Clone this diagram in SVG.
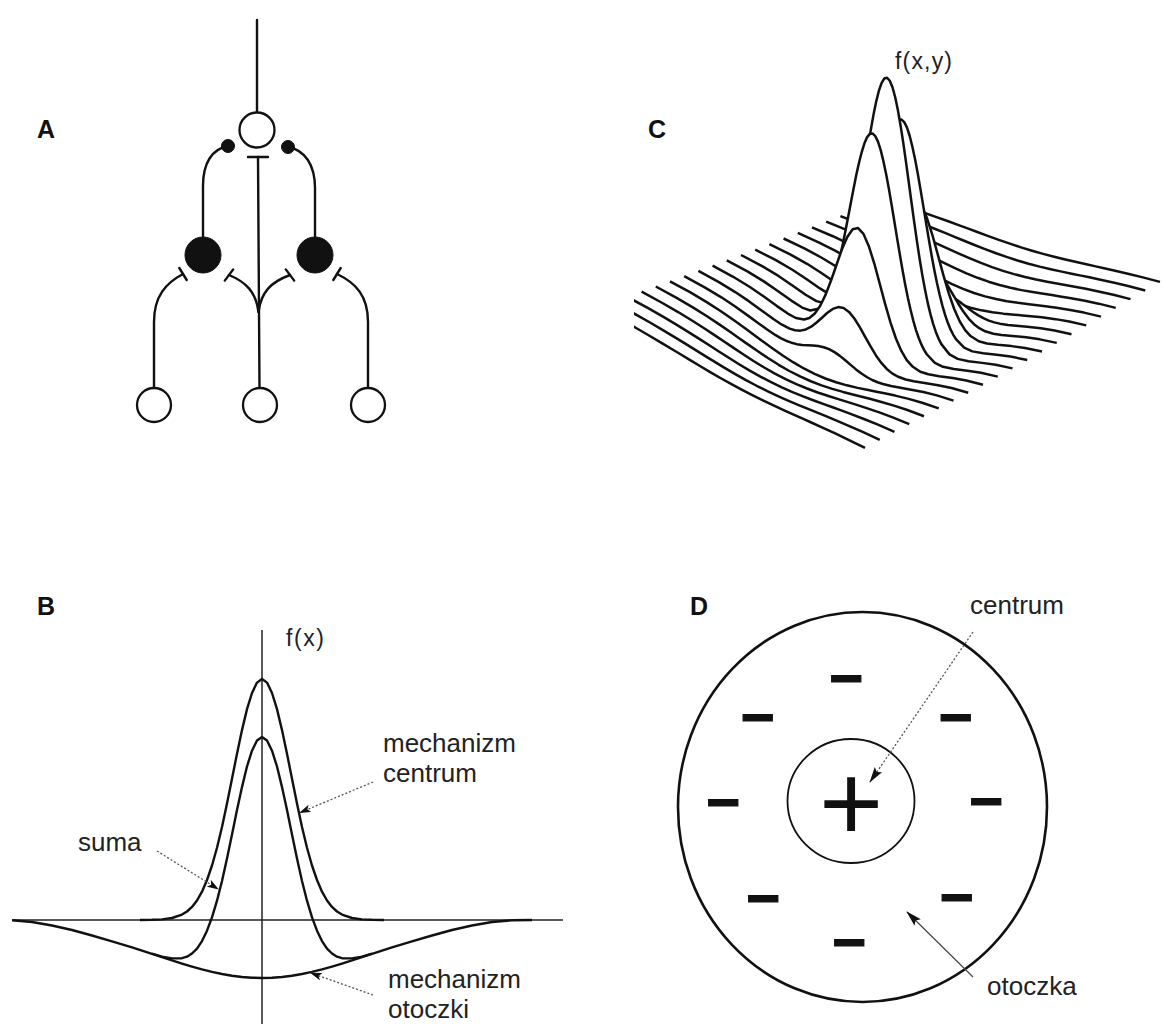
<svg xmlns="http://www.w3.org/2000/svg" width="1162" height="1024" viewBox="0 0 1162 1024">
<style>
.ln{fill:none;stroke:#111;stroke-width:2.4;stroke-linecap:round;stroke-linejoin:round}
.fillb{fill:#111;stroke:#111;stroke-width:1}
.openc{fill:#fff;stroke:#111;stroke-width:2.3}
.ax{fill:none;stroke:#222;stroke-width:1.5}
.cv{fill:none;stroke:#111;stroke-width:2.4;stroke-linejoin:round}
.dot{fill:none;stroke:#555;stroke-width:1.3;stroke-dasharray:2 2}
.thin{fill:none;stroke:#444;stroke-width:1.2}
.lbl{font-family:"Liberation Sans",Arial,sans-serif;font-weight:bold;font-size:25px;fill:#111}
.txt{font-family:"Liberation Sans",Arial,sans-serif;font-size:26px;fill:#222}
.fx{font-family:"Liberation Sans",Arial,sans-serif;font-size:23px;fill:#222}
.mi{font-family:"Liberation Sans",Arial,sans-serif;font-weight:bold;font-size:58px;fill:#111;stroke:#111;stroke-width:1.3;text-anchor:middle}
.pl{font-family:"Liberation Sans",Arial,sans-serif;font-size:110px;fill:#111;text-anchor:middle}
.wl{fill:none;stroke:#111;stroke-width:2.5;stroke-linejoin:round;vector-effect:non-scaling-stroke}
.wf{fill:#fff;stroke:none}
</style>
<defs>
<marker id="ah" viewBox="0 0 12 8" refX="11" refY="4" markerWidth="12" markerHeight="8" markerUnits="userSpaceOnUse" orient="auto"><path d="M0,0 L12,4 L0,8 L3,4 Z" fill="#111"/></marker>
<marker id="ahD" viewBox="0 0 16 9" refX="15" refY="4.5" markerWidth="16" markerHeight="9" markerUnits="userSpaceOnUse" orient="auto"><path d="M0,0 L16,4.5 L0,9 L3,4.5 Z" fill="#111"/></marker>
<clipPath id="clipC"><rect x="634" y="0" width="528" height="520"/></clipPath>
<path id="p0" class="wl" vector-effect="non-scaling-stroke" d="M0,2 L76,4.4 L138,7.6 L188,11.3 L238,15.3 L278,17.3 L308,16.1 L338,9.2 L348,4.9 L358,-0.5 L368,-7.5 L378,-16.1 L388,-26.2 L398,-38.3 L408,-51.8 L418,-67 L428,-83.8 L438,-101.7 L448,-120.2 L458,-139.1 L468,-157.8 L478,-176 L488,-192.3 L498,-206.8 L508,-218.8 L518,-227.7 L528,-233.1 L538,-235 L548,-233.1 L558,-227.7 L568,-218.8 L578,-206.8 L588,-192.3 L598,-176 L608,-157.8 L618,-139.1 L628,-120.2 L638,-101.7 L648,-83.8 L658,-67 L668,-51.8 L678,-38.3 L688,-26.2 L698,-16.1 L708,-7.5 L718,-0.5 L728,4.9 L738,9.2 L768,16.1 L798,17.3 L838,15.3 L888,11.3 L938,7.6 L1000,4.4"/>
<path id="q0" class="wf" d="M0,2 L76,4.4 L138,7.6 L188,11.3 L238,15.3 L278,17.3 L308,16.1 L338,9.2 L348,4.9 L358,-0.5 L368,-7.5 L378,-16.1 L388,-26.2 L398,-38.3 L408,-51.8 L418,-67 L428,-83.8 L438,-101.7 L448,-120.2 L458,-139.1 L468,-157.8 L478,-176 L488,-192.3 L498,-206.8 L508,-218.8 L518,-227.7 L528,-233.1 L538,-235 L548,-233.1 L558,-227.7 L568,-218.8 L578,-206.8 L588,-192.3 L598,-176 L608,-157.8 L618,-139.1 L628,-120.2 L638,-101.7 L648,-83.8 L658,-67 L668,-51.8 L678,-38.3 L688,-26.2 L698,-16.1 L708,-7.5 L718,-0.5 L728,4.9 L738,9.2 L768,16.1 L798,17.3 L838,15.3 L888,11.3 L938,7.6 L1000,4.4 L1000,150 L0,150 Z"/>
<path id="p1" class="wl" vector-effect="non-scaling-stroke" d="M0,2 L76,4.3 L138,7.5 L188,11.1 L238,15.1 L278,17.5 L308,17 L338,11.8 L348,8.5 L358,4.2 L368,-1.3 L378,-8.1 L388,-16.4 L398,-26.1 L408,-37 L418,-49.3 L428,-62.9 L438,-77.5 L448,-92.6 L458,-108 L468,-123.2 L478,-138.1 L488,-151.3 L498,-163.1 L508,-173 L518,-180.3 L528,-184.7 L538,-186.2 L548,-184.7 L558,-180.3 L568,-173 L578,-163.1 L588,-151.3 L598,-138.1 L608,-123.2 L618,-108 L628,-92.6 L638,-77.5 L648,-62.9 L658,-49.3 L668,-37 L678,-26.1 L688,-16.4 L698,-8.1 L708,-1.3 L718,4.2 L728,8.5 L738,11.8 L768,17 L798,17.5 L838,15.1 L888,11.1 L938,7.5 L1000,4.3"/>
<path id="q1" class="wf" d="M0,2 L76,4.3 L138,7.5 L188,11.1 L238,15.1 L278,17.5 L308,17 L338,11.8 L348,8.5 L358,4.2 L368,-1.3 L378,-8.1 L388,-16.4 L398,-26.1 L408,-37 L418,-49.3 L428,-62.9 L438,-77.5 L448,-92.6 L458,-108 L468,-123.2 L478,-138.1 L488,-151.3 L498,-163.1 L508,-173 L518,-180.3 L528,-184.7 L538,-186.2 L548,-184.7 L558,-180.3 L568,-173 L578,-163.1 L588,-151.3 L598,-138.1 L608,-123.2 L618,-108 L628,-92.6 L638,-77.5 L648,-62.9 L658,-49.3 L668,-37 L678,-26.1 L688,-16.4 L698,-8.1 L708,-1.3 L718,4.2 L728,8.5 L738,11.8 L768,17 L798,17.5 L838,15.1 L888,11.1 L938,7.5 L1000,4.3 L1000,150 L0,150 Z"/>
<path id="p2" class="wl" vector-effect="non-scaling-stroke" d="M0,1.9 L76,4.1 L138,7.1 L188,10.5 L238,14.5 L278,17.3 L308,18.2 L338,16.2 L358,12.4 L378,5.6 L398,-4.5 L418,-18 L438,-34.4 L458,-52.3 L478,-70.1 L498,-84.9 L518,-95.1 L538,-98.6 L558,-95.1 L578,-84.9 L598,-70.1 L618,-52.3 L638,-34.4 L658,-18 L678,-4.5 L698,5.6 L718,12.4 L738,16.2 L768,18.2 L798,17.3 L838,14.5 L888,10.5 L938,7.1 L1000,4.1"/>
<path id="q2" class="wf" d="M0,1.9 L76,4.1 L138,7.1 L188,10.5 L238,14.5 L278,17.3 L308,18.2 L338,16.2 L358,12.4 L378,5.6 L398,-4.5 L418,-18 L438,-34.4 L458,-52.3 L478,-70.1 L498,-84.9 L518,-95.1 L538,-98.6 L558,-95.1 L578,-84.9 L598,-70.1 L618,-52.3 L638,-34.4 L658,-18 L678,-4.5 L698,5.6 L718,12.4 L738,16.2 L768,18.2 L798,17.3 L838,14.5 L888,10.5 L938,7.1 L1000,4.1 L1000,150 L0,150 Z"/>
<path id="p3" class="wl" vector-effect="non-scaling-stroke" d="M0,1.7 L76,3.8 L138,6.6 L188,9.7 L238,13.5 L278,16.6 L308,18.4 L338,19 L358,18.2 L378,16.2 L398,12.6 L418,7.5 L438,0.9 L458,-6.3 L478,-13.7 L498,-19.9 L518,-24.1 L538,-25.6 L558,-24.1 L578,-19.9 L598,-13.7 L618,-6.3 L638,0.9 L658,7.5 L678,12.6 L698,16.2 L718,18.2 L738,19 L768,18.4 L798,16.6 L838,13.5 L888,9.7 L938,6.6 L1000,3.8"/>
<path id="q3" class="wf" d="M0,1.7 L76,3.8 L138,6.6 L188,9.7 L238,13.5 L278,16.6 L308,18.4 L338,19 L358,18.2 L378,16.2 L398,12.6 L418,7.5 L438,0.9 L458,-6.3 L478,-13.7 L498,-19.9 L518,-24.1 L538,-25.6 L558,-24.1 L578,-19.9 L598,-13.7 L618,-6.3 L638,0.9 L658,7.5 L678,12.6 L698,16.2 L718,18.2 L738,19 L768,18.4 L798,16.6 L838,13.5 L888,9.7 L938,6.6 L1000,3.8 L1000,150 L0,150 Z"/>
<path id="p4" class="wl" vector-effect="non-scaling-stroke" d="M0,1.5 L76,3.4 L138,5.8 L188,8.6 L238,12.1 L278,15 L308,17.2 L338,18.9 L358,19.6 L378,19.8 L398,19.3 L418,18.3 L438,16.6 L458,14.5 L478,12.3 L498,10.4 L518,9.1 L538,8.6 L558,9.1 L578,10.4 L598,12.3 L618,14.5 L638,16.6 L658,18.3 L678,19.3 L698,19.8 L718,19.6 L738,18.9 L768,17.2 L798,15 L838,12.1 L888,8.6 L938,5.8 L1000,3.4"/>
<path id="q4" class="wf" d="M0,1.5 L76,3.4 L138,5.8 L188,8.6 L238,12.1 L278,15 L308,17.2 L338,18.9 L358,19.6 L378,19.8 L398,19.3 L418,18.3 L438,16.6 L458,14.5 L478,12.3 L498,10.4 L518,9.1 L538,8.6 L558,9.1 L578,10.4 L598,12.3 L618,14.5 L638,16.6 L658,18.3 L678,19.3 L698,19.8 L718,19.6 L738,18.9 L768,17.2 L798,15 L838,12.1 L888,8.6 L938,5.8 L1000,3.4 L1000,150 L0,150 Z"/>
<path id="dip" class="wl" vector-effect="non-scaling-stroke" d="M0,5 L76,11 L138,19.1 L188,28.2 L238,39.5 L278,49.8 L308,57.9 L338,66.2 L378,76.8 L418,86.2 L458,93.6 L498,98.4 L538,100 L578,98.4 L618,93.6 L658,86.2 L698,76.8 L738,66.2 L768,57.9 L798,49.8 L838,39.5 L888,28.2 L938,19.1 L1000,11"/>
</defs>
<rect x="0" y="0" width="1162" height="1024" fill="#fff"/>

<!-- Panel A -->
<g id="panelA">
<text class="lbl" x="37" y="138">A</text>
<g id="A-connectors">
<path class="ln" d="M257,20 V112"/>
<path class="ln" d="M203,238 V186 C203,163 212,149 228,146"/>
<path class="ln" d="M315,238 V188 C315,165 305,150 288,147"/>
<circle class="fillb" cx="228" cy="146" r="6.5"/>
<circle class="fillb" cx="288" cy="147" r="6.5"/>
<path class="ln" d="M258,157 L259.5,388"/>
<path class="ln" d="M248,157 H268"/>
<path class="ln" d="M258.5,312 C256,292 246,282 229,275"/>
<path class="ln" d="M258.5,312 C261,292 271,282 290,275"/>
<path class="ln" d="M224.8,280.6 L233.2,269.4"/>
<path class="ln" d="M285.8,269.4 L294.2,280.6"/>
<path class="ln" d="M154,388 V322 C154,296 166,283 183,274"/>
<path class="ln" d="M179.3,268 L186.7,280"/>
<path class="ln" d="M368,388 V322 C368,296 356,283 337,274"/>
<path class="ln" d="M340.7,268 L333.3,280"/>
</g>
<g id="A-out"><circle class="openc" cx="257" cy="130" r="17.5"/></g>
<g id="A-inh-left"><circle class="fillb" cx="203" cy="255" r="18"/></g>
<g id="A-inh-right"><circle class="fillb" cx="315" cy="255" r="18"/></g>
<g id="A-in-left"><circle class="openc" cx="154" cy="405" r="17"/></g>
<g id="A-in-mid"><circle class="openc" cx="260" cy="405" r="17"/></g>
<g id="A-in-right"><circle class="openc" cx="368" cy="405" r="17"/></g>
</g>

<!-- Panel C -->
<g id="panelC">
<text class="lbl" x="648" y="138">C</text>
<text class="fx" x="895" y="69" textLength="57" lengthAdjust="spacing">f(x,y)</text>
<g id="surface" clip-path="url(#clipC)">
<use href="#dip" transform="matrix(.277 .082 0 .076 883 199)"/>
<use href="#dip" transform="matrix(.27645 .0849 0 .104 868.8 204.4)"/>
<use href="#dip" transform="matrix(.2759 .0878 0 .138 854.6 209.8)"/>
<use href="#dip" transform="matrix(.27535 .0907 0 .177 840.4 215.2)"/>
<use href="#dip" transform="matrix(.2748 .0936 0 .22 826.2 220.6)"/>
<use href="#dip" transform="matrix(.27425 .0965 0 .264 812 226)"/>
<g transform="matrix(.2737 .0994 0 1 797.8 231.4)"><use href="#q4"/><use href="#p4"/></g>
<g transform="matrix(.27315 .1023 0 1 783.6 236.8)"><use href="#q3"/><use href="#p3"/></g>
<g transform="matrix(.2726 .1052 0 1 769.4 242.2)"><use href="#q2"/><use href="#p2"/></g>
<g transform="matrix(.27205 .1081 0 1 755.2 247.6)"><use href="#q1"/><use href="#p1"/></g>
<g transform="matrix(.2715 .111 0 1 741 253)"><use href="#q0"/><use href="#p0"/></g>
<g transform="matrix(.27095 .1139 0 1 726.8 258.4)"><use href="#q1"/><use href="#p1"/></g>
<g transform="matrix(.2704 .1168 0 1 712.6 263.8)"><use href="#q2"/><use href="#p2"/></g>
<g transform="matrix(.26985 .1197 0 1 698.4 269.2)"><use href="#q3"/><use href="#p3"/></g>
<g transform="matrix(.2693 .1226 0 1 684.2 274.6)"><use href="#q4"/><use href="#p4"/></g>
<use href="#dip" transform="matrix(.26875 .1255 0 .264 670 280)"/>
<use href="#dip" transform="matrix(.2682 .1284 0 .22 655.8 285.4)"/>
<use href="#dip" transform="matrix(.26765 .1313 0 .177 641.6 290.8)"/>
<use href="#dip" transform="matrix(.2671 .1342 0 .138 627.4 296.2)"/>
<use href="#dip" transform="matrix(.26655 .1371 0 .104 613.2 301.6)"/>
<use href="#dip" transform="matrix(.266 .14 0 .076 599 307)"/>
</g>
</g>

<!-- Panel B -->
<g id="panelB">
<text class="lbl" x="37" y="615">B</text>
<path class="ax" d="M13,920 H563"/>
<path class="ax" d="M262,630 V1024"/>
<text class="fx" x="286" y="646" textLength="38" lengthAdjust="spacing">f(x)</text>
<path id="B-centrum" class="cv" d="M140,920 L152,919.8 L162,919.4 L172,918 L182,914.6 L187,911.5 L192,906.9 L197,900.5 L202,891.7 L207,880 L212,865.5 L217,847.7 L222,827 L227,803.6 L232,778.8 L237,753.7 L242,730.1 L247,709.1 L252,693 L257,682.6 L262,679 L267,682.6 L272,693 L277,709.1 L282,730.1 L287,753.7 L292,778.8 L297,803.6 L302,827 L307,847.7 L312,865.5 L317,880 L322,891.7 L327,900.5 L332,906.9 L337,911.5 L342,914.6 L352,918 L362,919.4 L372,919.8 L384,920"/>
<path id="B-suma" class="cv" d="M152,953.6 L162,956.6 L172,958.4 L182,958.2 L187,956.7 L192,953.5 L197,948.6 L202,941.1 L207,930.7 L212,917.4 L217,900.7 L222,881 L227,858.5 L232,834.5 L237,810.1 L242,787.1 L247,766.5 L252,750.7 L257,740.5 L262,737 L267,740.5 L272,750.7 L277,766.5 L282,787.1 L287,810.1 L292,834.5 L297,858.5 L302,881 L307,900.7 L312,917.4 L317,930.7 L322,941.1 L327,948.6 L332,953.5 L337,956.7 L342,958.2 L352,958.4 L362,956.6 L372,953.6"/>
<path id="B-otoczki" class="cv" d="M12,920.3 L32,922 L52,925.5 L72,930 L92,935.5 L112,941.3 L132,947.3 L152,953.8 L162,957.2 L172,960.4 L182,963.6 L192,966.6 L202,969.4 L212,971.9 L222,974 L232,975.7 L242,977 L252,977.7 L262,978 L272,977.7 L282,977 L292,975.7 L302,974 L312,971.9 L322,969.4 L332,966.6 L342,963.6 L352,960.4 L362,957.2 L372,953.8 L392,947.3 L412,941.3 L432,935.5 L452,930 L472,925.5 L492,922 L512,920.3 L532,920"/>
<text class="txt" x="383" y="752">mechanizm</text>
<text class="txt" x="383" y="782">centrum</text>
<text class="txt" x="78" y="851">suma</text>
<text class="txt" x="388" y="988">mechanizm</text>
<text class="txt" x="388" y="1018">otoczki</text>
<g id="B-arrows">
<path class="dot" d="M373,782 L300,812.6" marker-end="url(#ah)"/>
<path class="dot" d="M157,851 L218,889" marker-end="url(#ah)"/>
<path class="dot" d="M373,995 L311,973" marker-end="url(#ah)"/>
</g>
</g>

<!-- Panel D -->
<g id="panelD">
<text class="lbl" x="690" y="615">D</text>
<g id="D-surround"><ellipse cx="862.5" cy="807" rx="184.5" ry="195" fill="none" stroke="#111" stroke-width="2.6"/></g>
<g id="D-center"><ellipse cx="851" cy="801" rx="63.5" ry="62" fill="none" stroke="#111" stroke-width="1.8"/></g>
<text class="pl" x="851" y="841">+</text>
<text class="mi" x="846.5" y="697.5">−</text>
<text class="mi" x="758" y="736.5">−</text>
<text class="mi" x="956" y="736.5">−</text>
<text class="mi" x="723.5" y="821.5">−</text>
<text class="mi" x="986.5" y="820.5">−</text>
<text class="mi" x="763.5" y="917.5">−</text>
<text class="mi" x="957" y="916.5">−</text>
<text class="mi" x="849.5" y="961.5">−</text>
<text class="txt" x="970" y="614">centrum</text>
<text class="txt" x="987" y="995">otoczka</text>
<g id="D-arrows">
<path class="dot" d="M973,632 L870,782" marker-end="url(#ahD)"/>
<path class="thin" d="M973,977 L907,912" marker-end="url(#ahD)"/>
</g>
</g>
</svg>
